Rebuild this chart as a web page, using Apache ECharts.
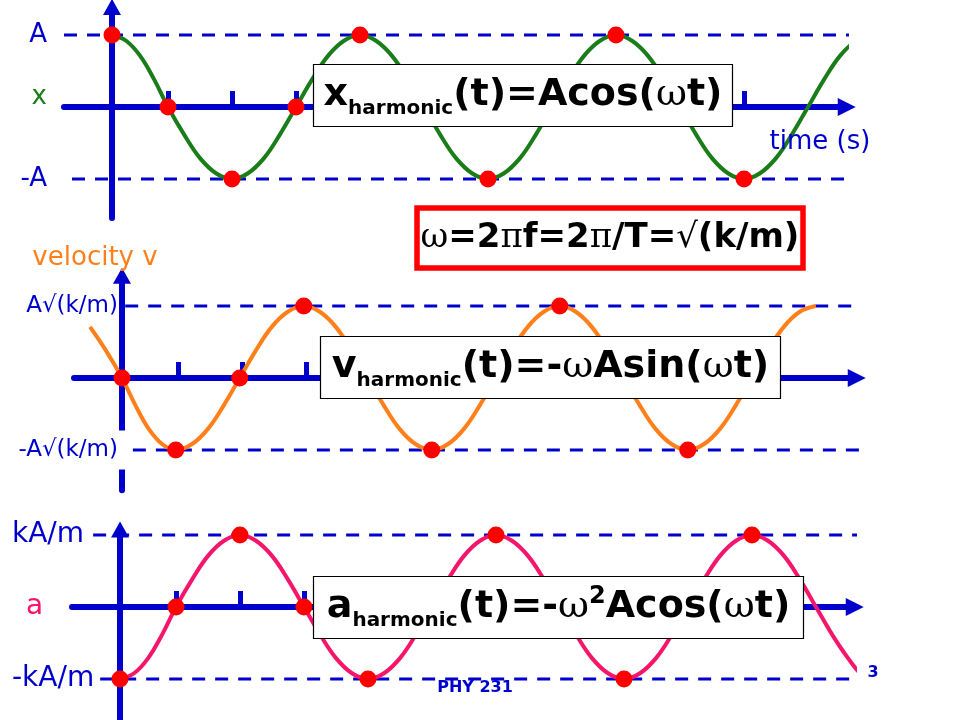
<!DOCTYPE html>
<html>
<head>
<meta charset="utf-8">
<script src="https://cdn.jsdelivr.net/npm/echarts@6/dist/echarts.min.js"></script>
<style>html,body{margin:0;padding:0;background:#fff}#c{width:960px;height:720px}</style>
</head>
<body>
<div id="c"></div>
<script>
// ---------- data ----------
// time in units of one tick spacing (quarter period); values in units of the amplitude
const posT = [0, 0.22, 0.44, 0.66, 0.875, 1.125, 1.375, 1.625, 1.875, 2.125, 2.375, 2.625, 2.875, 3.125, 3.375, 3.625, 3.875, 4.125, 4.375, 4.625, 4.875, 5.125, 5.375, 5.625, 5.875, 6.125, 6.375, 6.625, 6.875, 7.125, 7.375, 7.625, 7.875, 8.125, 8.375, 8.625, 8.875, 9.125, 9.375, 9.625, 9.875, 10.125, 10.375, 10.625, 10.875, 11.125, 11.375, 11.625, 11.84];
const posX = [1, 0.92, 0.71, 0.38, 0, -0.38, -0.71, -0.92, -1, -0.92, -0.71, -0.38, 0, 0.38, 0.71, 0.92, 1, 0.92, 0.71, 0.38, 0, -0.38, -0.71, -0.92, -1, -0.92, -0.71, -0.38, 0, 0.38, 0.71, 0.92, 1, 0.92, 0.71, 0.38, 0, -0.38, -0.71, -0.92, -1, -0.92, -0.71, -0.38, 0, 0.38, 0.71, 0.92, 1];
const velT = [-0.5, -0.25, 0, 0.21, 0.42, 0.63, 0.84, 1.09, 1.34, 1.59, 1.84, 2.09, 2.34, 2.59, 2.84, 3.09, 3.34, 3.59, 3.84, 4.09, 4.34, 4.59, 4.84, 5.09, 5.34, 5.59, 5.84, 6.09, 6.34, 6.59, 6.84, 7.09, 7.34, 7.59, 7.84, 8.09, 8.34, 8.59, 8.84, 9.09, 9.34, 9.59, 9.84, 10.09, 10.34, 10.59, 10.84];
const velV = [0.71, 0.38, 0, -0.38, -0.71, -0.92, -1, -0.92, -0.71, -0.38, 0, 0.38, 0.71, 0.92, 1, 0.92, 0.71, 0.38, 0, -0.38, -0.71, -0.92, -1, -0.92, -0.71, -0.38, 0, 0.38, 0.71, 0.92, 1, 0.92, 0.71, 0.38, 0, -0.38, -0.71, -0.92, -1, -0.92, -0.71, -0.38, 0, 0.38, 0.71, 0.92, 1];
const accT = [0, 0.22, 0.44, 0.66, 0.875, 1.125, 1.375, 1.625, 1.875, 2.125, 2.375, 2.625, 2.875, 3.125, 3.375, 3.625, 3.875, 4.125, 4.375, 4.625, 4.875, 5.125, 5.375, 5.625, 5.875, 6.125, 6.375, 6.625, 6.875, 7.125, 7.375, 7.625, 7.875, 8.125, 8.375, 8.625, 8.875, 9.125, 9.375, 9.625, 9.875, 10.125, 10.375, 10.625, 10.875, 11.125, 11.375, 11.6, 11.75];
const accV = [-1, -0.92, -0.71, -0.38, 0, 0.38, 0.71, 0.92, 1, 0.92, 0.71, 0.38, 0, -0.38, -0.71, -0.92, -1, -0.92, -0.71, -0.38, 0, 0.38, 0.71, 0.92, 1, 0.92, 0.71, 0.38, 0, -0.38, -0.71, -0.92, -1, -0.92, -0.71, -0.38, 0, 0.38, 0.71, 0.92, 1, 0.92, 0.71, 0.38, 0, -0.38, -0.71, -0.95, -1];

const posDotT = [0, 0.875, 1.875, 2.875, 3.875, 5.875, 7.875, 9.875];
const posDotX = [1, 0, -1, 0, 1, -1, 1, -1];
const velDotT = [0, 0.84, 1.84, 2.84, 4.84, 6.84, 8.84];
const velDotV = [0, -1, 0, 1, -1, 1, -1];
const accDotT = [0, 0.875, 1.875, 2.875, 3.875, 5.875, 7.875, 9.875];
const accDotV = [-1, 0, 1, 0, -1, 1, -1, 1];

const tickT = [0.875, 1.875, 2.875, 3.875, 4.875, 5.875, 6.875, 7.875, 8.875, 9.875];

const posLabelVals = [1, 0, -1];
const posLabels = ['A', 'x', '-A'];
const velLabelVals = [1, -1];
const velLabels = ['A\u221A(k/m)', '-A\u221A(k/m)'];
const accLabelVals = [1, 0, -1];
const accLabels = ['kA/m', 'a', '-kA/m'];

// dashed reference levels: [level, tStart, tEnd]
const posLevels = [[1, -0.75, 12.23], [-1, -0.625, 12.23]];
const velLevels = [[1, 0.05, 12.27], [-1, 0.17, 12.36]];
const accLevels = [[1, -0.42, 12.23], [-1, -0.31, 12.375]];

// ---------- layout / style ----------
const BLUE = '#0000cc', GREEN = '#1a7d1a', ORANGE = '#ff7f1a', PINK = '#f5166b', RED = '#ff0000';
const SANS = "'DejaVu Sans', sans-serif";
const SERIF = "'DejaVu Serif', serif";
const UX = 64, UY = 72, XMIN = -0.75, XMAX = 11.48;
const panels = [
  {ox: 112, oy: 107, ymax: 1.39, ymin: -1.54},
  {ox: 122, oy: 378, ymax: 1.42, ymin: -1.56},
  {ox: 120, oy: 607, ymax: 1.076, ymin: -1.57}
];
const zip = (a, b) => a.map((v, i) => [v, b[i]]);

const grid = panels.map(p => ({
  left: p.ox + XMIN * UX, width: (XMAX - XMIN) * UX,
  top: p.oy - p.ymax * UY, height: (p.ymax - p.ymin) * UY,
  containLabel: false, outerBoundsMode: 'none'
}));

const xAxis = panels.map((p, i) => ({
  type: 'value', gridIndex: i, min: XMIN, max: XMAX,
  splitLine: {show: false},
  axisLabel: {show: false},
  axisLine: {show: true, onZero: true, symbol: ['none', 'triangle'], symbolSize: [18, 18],
    lineStyle: {color: BLUE, width: 6}},
  axisTick: {show: true, inside: true, length: 16, customValues: tickT,
    lineStyle: {color: BLUE, width: 5}}
}));

const yBase = (i, p) => ({
  type: 'value', gridIndex: i, min: p.ymin, max: p.ymax,
  splitLine: {show: false}, axisTick: {show: false},
  axisLine: {show: true, onZero: true, symbol: ['none', 'triangle'], symbolSize: [18, 16],
    lineStyle: {color: BLUE, width: 6}}
});
// note: y-axis labels are anchored at the grid's left edge
const yAxis = [
  Object.assign(yBase(0, panels[0]), {
    axisLabel: {show: true, customValues: posLabelVals, margin: 17, align: 'right',
      fontFamily: SANS, fontSize: 26, color: BLUE,
      formatter: v => { const s = posLabels[posLabelVals.indexOf(v)]; return v === 0 ? '{g|' + s + '}' : s; },
      rich: {g: {color: GREEN, fontFamily: SANS, fontSize: 26, padding: [0, 0, 20, 0]}}}
  }),
  Object.assign(yBase(1, panels[1]), {
    axisLabel: {show: true, customValues: velLabelVals, margin: -51, align: 'right',
      fontFamily: SANS, fontSize: 23, color: BLUE,
      formatter: v => (v > 0 ? '{u|' : '{w|') + velLabels[velLabelVals.indexOf(v)] + '}',
      rich: {
        u: {color: BLUE, fontFamily: SANS, fontSize: 23, padding: [0, 7, 0, 0]},
        w: {color: BLUE, fontFamily: SANS, fontSize: 23, padding: [8, 7, 8, 0], backgroundColor: '#fff'}
      }}
  }),
  Object.assign(yBase(2, panels[2]), {
    axisLabel: {show: true, customValues: accLabelVals, margin: 60, align: 'left',
      fontFamily: SANS, fontSize: 28, color: BLUE,
      formatter: v => { const s = accLabels[accLabelVals.indexOf(v)]; return v === 0 ? '{p|' + s + '}' : s; },
      rich: {p: {color: PINK, fontFamily: SANS, fontSize: 28, padding: [0, 0, 0, 14]}}}
  })
];

const curves = [[posT, posX, GREEN], [velT, velV, ORANGE], [accT, accV, PINK]];
const dots = [[posDotT, posDotX], [velDotT, velDotV], [accDotT, accDotV]];
const levels = [posLevels, velLevels, accLevels];

const series = [];
levels.forEach((lv, i) => lv.forEach(l => series.push({
  type: 'line', xAxisIndex: i, yAxisIndex: i, data: [[l[1], l[0]], [l[2], l[0]]],
  showSymbol: false, silent: true, clip: false, z: 1,
  lineStyle: {color: BLUE, width: 3, type: [13, 10]}
})));
curves.forEach((c, i) => series.push({
  type: 'line', xAxisIndex: i, yAxisIndex: i, data: zip(c[0], c[1]),
  smooth: 0.4, showSymbol: false, clip: false, z: 3, silent: true,
  lineStyle: {color: c[2], width: 4}
}));
dots.forEach((d, i) => series.push({
  type: 'scatter', xAxisIndex: i, yAxisIndex: i, data: zip(d[0], d[1]),
  symbolSize: 17, itemStyle: {color: RED, opacity: 1}, z: 4, clip: false, silent: true
}));

const rich = {
  m: {fontFamily: SANS, fontWeight: 'bold', fontSize: 38, lineHeight: 46, fill: '#000'},
  s: {fontFamily: SANS, fontWeight: 'bold', fontSize: 20, lineHeight: 20, verticalAlign: 'bottom', fill: '#000'},
  g: {fontFamily: SERIF, fontWeight: 'normal', fontSize: 38, lineHeight: 46, fill: '#000'},
  p: {fontFamily: SANS, fontWeight: 'bold', fontSize: 24, lineHeight: 34, verticalAlign: 'top', fill: '#000'},
  b: {fontFamily: SANS, fontWeight: 'bold', fontSize: 34, lineHeight: 42, fill: '#000'},
  h: {fontFamily: SERIF, fontWeight: 'normal', fontSize: 34, lineHeight: 42, fill: '#000'}
};
const box = (x, y, w, h, text, stroke, lw) => ({
  type: 'group', z: 100, children: [
    {type: 'rect', shape: {x: x, y: y, width: w, height: h}, style: {fill: '#fff', stroke: stroke, lineWidth: lw}, z: 100},
    {type: 'text', x: x + w / 2, y: y + h / 2, z: 101,
      style: {text: text, rich: rich, align: 'center', verticalAlign: 'middle'}}
  ]
});
const label = (x, y, text, color, size, weight) => ({
  type: 'text', x: x, y: y, z: 100,
  style: {text: text, fill: color, fontFamily: SANS, fontSize: size, fontWeight: weight || 'normal', align: 'center', verticalAlign: 'middle'}
});

const graphic = [
  box(313.5, 64.5, 419, 62, '{m|x}{s|harmonic}{m|(t)=Acos(}{g|\u03C9}{m|t)}', '#000', 1.2),
  box(417, 208, 386, 60, '{h|\u03C9}{b|=2}{h|\u03C0}{b|f=2}{h|\u03C0}{b|/T=}{h|\u221A}{b|(k/m)}', RED, 5.5),
  box(320.5, 336.5, 460, 62, '{m|v}{s|harmonic}{m|(t)=-}{g|\u03C9}{m|Asin(}{g|\u03C9}{m|t)}', '#000', 1.2),
  box(313.5, 576.5, 490, 62, '{m|a}{s|harmonic}{m|(t)=-}{g|\u03C9}{p|2}{m|Acos(}{g|\u03C9}{m|t)}', '#000', 1.2),
  label(820, 142, 'time (s)', BLUE, 26),
  label(95, 258, 'velocity v', ORANGE, 26),
  label(475, 688, 'PHY 231', BLUE, 16, 'bold'),
  label(873, 673, '3', BLUE, 16, 'bold')
];

const chart = echarts.init(document.getElementById('c'), null, {renderer: 'canvas'});
chart.setOption({
  animation: false, backgroundColor: '#fff',
  grid: grid, xAxis: xAxis, yAxis: yAxis, series: series, graphic: graphic
});
</script>
</body>
</html>
